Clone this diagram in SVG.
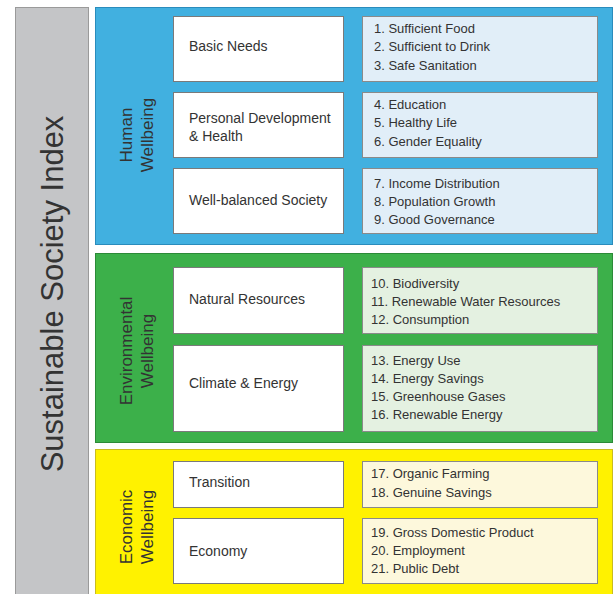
<svg xmlns="http://www.w3.org/2000/svg" width="614" height="594" viewBox="0 0 614 594">
<style>
text{font-family:"Liberation Sans",Arial,sans-serif;fill:#333}
.node{font-size:14px}
.item{font-size:13px}
.grp{font-size:17px}
.wb{fill:#fff;stroke:#7a7a7a;stroke-width:1}
.lb{stroke:#8a8a8a;stroke-width:1}
</style>
<rect width="614" height="594" fill="#fff"/>
<g id="index">
<rect x="15.5" y="7.5" width="73" height="590" fill="#c4c5c7" stroke="#9a9a9a"/>
<text transform="rotate(-90)" x="-294" y="63" text-anchor="middle" font-size="31" fill="#333">Sustainable Society Index</text>
</g>
<g id="human">
<rect x="95.5" y="7.5" width="517" height="237" fill="#41b0e0" stroke="#2a8cbc"/>
<text class="grp" transform="rotate(-90)" x="-135" y="132" text-anchor="middle" fill="#1b3a5c">Human</text>
<text class="grp" transform="rotate(-90)" x="-135" y="153" text-anchor="middle" fill="#1b3a5c">Wellbeing</text>
</g>
<g id="environmental">
<rect x="95.5" y="253.5" width="517" height="189" fill="#3cb04a" stroke="#2c8a38"/>
<text class="grp" transform="rotate(-90)" x="-351" y="132" text-anchor="middle" fill="#1d4a22">Environmental</text>
<text class="grp" transform="rotate(-90)" x="-351" y="153" text-anchor="middle" fill="#1d4a22">Wellbeing</text>
</g>
<g id="economic">
<rect x="95.5" y="449.5" width="517" height="150" fill="#fff200" stroke="#c9bc20"/>
<text class="grp" transform="rotate(-90)" x="-527" y="132" text-anchor="middle" fill="#4a3c00">Economic</text>
<text class="grp" transform="rotate(-90)" x="-527" y="153" text-anchor="middle" fill="#4a3c00">Wellbeing</text>
</g>
<g id="basic-needs">
<rect class="wb" x="173.5" y="16.5" width="170" height="65"/>
<text class="node" x="189" y="51">Basic Needs</text>
<rect class="lb" x="362.5" y="16.5" width="235" height="65" fill="#e1eef8"/>
<text class="item" x="374" y="33">1.  Sufficient Food</text>
<text class="item" x="374" y="51">2.  Sufficient to Drink</text>
<text class="item" x="374" y="70">3.  Safe Sanitation</text>
</g>
<g id="personal">
<rect class="wb" x="173.5" y="92.5" width="170" height="65"/>
<text class="node" x="189" y="123">Personal Development</text>
<text class="node" x="189" y="141">&amp; Health</text>
<rect class="lb" x="362.5" y="92.5" width="235" height="65" fill="#e1eef8"/>
<text class="item" x="374" y="109">4.  Education</text>
<text class="item" x="374" y="127">5.  Healthy Life</text>
<text class="item" x="374" y="146">6.  Gender Equality</text>
</g>
<g id="society">
<rect class="wb" x="173.5" y="168.5" width="170" height="65"/>
<text class="node" x="189" y="205">Well-balanced Society</text>
<rect class="lb" x="362.5" y="168.5" width="235" height="65" fill="#e1eef8"/>
<text class="item" x="374" y="188">7.  Income Distribution</text>
<text class="item" x="374" y="206">8.  Population Growth</text>
<text class="item" x="374" y="224">9.  Good Governance</text>
</g>
<g id="natural">
<rect class="wb" x="173.5" y="267.5" width="170" height="66"/>
<text class="node" x="189" y="304">Natural Resources</text>
<rect class="lb" x="362.5" y="267.5" width="235" height="66" fill="#e4f1e1"/>
<text class="item" x="371" y="288">10. Biodiversity</text>
<text class="item" x="371" y="306">11. Renewable Water Resources</text>
<text class="item" x="371" y="324">12. Consumption</text>
</g>
<g id="climate">
<rect class="wb" x="173.5" y="345.5" width="170" height="86"/>
<text class="node" x="189" y="388">Climate &amp; Energy</text>
<rect class="lb" x="362.5" y="345.5" width="235" height="86" fill="#e4f1e1"/>
<text class="item" x="371" y="365">13. Energy Use</text>
<text class="item" x="371" y="383">14. Energy Savings</text>
<text class="item" x="371" y="401">15. Greenhouse Gases</text>
<text class="item" x="371" y="419">16. Renewable Energy</text>
</g>
<g id="transition">
<rect class="wb" x="173.5" y="461.5" width="170" height="46"/>
<text class="node" x="189" y="487">Transition</text>
<rect class="lb" x="362.5" y="461.5" width="235" height="46" fill="#fdf8dc"/>
<text class="item" x="371" y="478">17. Organic Farming</text>
<text class="item" x="371" y="497">18. Genuine Savings</text>
</g>
<g id="economy">
<rect class="wb" x="173.5" y="518.5" width="170" height="65"/>
<text class="node" x="189" y="556">Economy</text>
<rect class="lb" x="362.5" y="518.5" width="235" height="65" fill="#fdf8dc"/>
<text class="item" x="371" y="537">19. Gross Domestic Product</text>
<text class="item" x="371" y="555">20. Employment</text>
<text class="item" x="371" y="573">21. Public Debt</text>
</g>
<g id="connectors"></g>
</svg>
